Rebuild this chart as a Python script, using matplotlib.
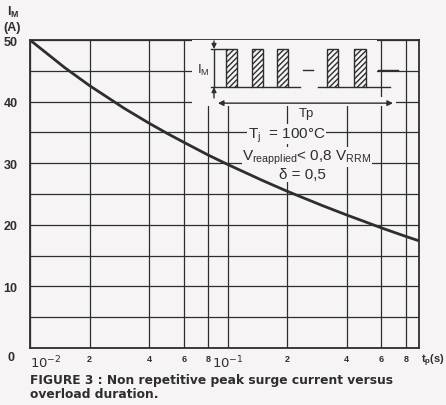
import matplotlib.pyplot as plt
from matplotlib.patches import Rectangle

plt.rcParams['font.family'] = ['Liberation Sans', 'DejaVu Sans']

# values
tp = [0.01, 0.015, 0.02, 0.03, 0.04, 0.05, 0.06, 0.08, 0.1, 0.15,
      0.2, 0.3, 0.4, 0.5, 0.6, 0.8, 0.93]
im = [50.0, 45.5, 42.6, 38.9, 36.5, 34.75, 33.4, 31.3, 29.8, 27.2,
      25.45, 23.15, 21.6, 20.45, 19.5, 18.1, 17.4]

x_ticks = [0.01, 0.02, 0.04, 0.06, 0.08, 0.1, 0.2, 0.4, 0.6, 0.8]
x_labels = ['$10^{-2}$', '2', '4', '6', '8', '$10^{-1}$', '2', '4', '6', '8']
y_ticks = [0, 10, 20, 30, 40, 50]
y_labels = ['', '10', '20', '30', '40', '50']
y_minor = [5, 15, 25, 35, 45]

ink = '#2e2e2e'
paper = '#f6f4f5'

fig = plt.figure(figsize=(4.46, 4.06), dpi=100, facecolor=paper)
ax = fig.add_axes([0.0673, 0.1404, 0.8722, 0.7586], facecolor=paper)

ax.set_xscale('log')
ax.set_xlim(0.01, 0.93)
ax.set_ylim(0, 50)

ax.set_xticks(x_ticks)
ax.set_xticklabels(x_labels)
ax.xaxis.set_minor_locator(plt.NullLocator())
ax.set_yticks(y_ticks)
ax.set_yticklabels(y_labels)
ax.set_yticks(y_minor, minor=True)

ax.grid(True, which='both', color=ink, linewidth=0.9, zorder=1)
ax.tick_params(which='both', length=0, colors=ink)
ax.tick_params(axis='y', pad=9, labelsize=9)
ax.tick_params(axis='x', pad=4)
for lab in ax.get_yticklabels():
    lab.set_fontweight('bold')
for i, lab in enumerate(ax.get_xticklabels()):
    lab.set_fontweight('bold')
    if x_labels[i].startswith('$'):
        lab.set_fontsize(9.5)
    else:
        lab.set_fontsize(6.5)
ax.get_xticklabels()[0].set_horizontalalignment('left')
for sp in ax.spines.values():
    sp.set_color(ink)
    sp.set_linewidth(1.3)

ax.plot(tp, im, color=ink, linewidth=2.0, zorder=5)

# axis captions
ax.text(-0.04, -0.03, '0', transform=ax.transAxes, ha='right', va='center',
        fontsize=9, fontweight='bold', color=ink)
fig.text(7 / 446, 1 - 12 / 406, r'I$_\mathregular{M}$', ha='left', va='center',
         fontsize=9, fontweight='bold', color=ink)
fig.text(3 / 446, 1 - 28 / 406, '(A)', ha='left', va='center',
         fontsize=9, fontweight='bold', color=ink)
fig.text(445 / 446, 1 - 361 / 406, r't$_\mathregular{p}$(s)', ha='right', va='center',
         fontsize=8, fontweight='bold', color=ink)

# inset: pulse train sketch
T = ax.transAxes
ax.add_patch(Rectangle((0.416, 0.786), 0.476, 0.214, transform=T,
                       facecolor=paper, edgecolor='none', zorder=3))
ax.add_patch(Rectangle((0.476, 0.786), 0.465, 0.03, transform=T,
                       facecolor=paper, edgecolor='none', zorder=3))
top, bot = 0.971, 0.847
pulses = [(0.504, 0.532), (0.571, 0.599), (0.635, 0.663),
          (0.763, 0.792), (0.833, 0.864)]
for x0, x1 in pulses:
    ax.add_patch(Rectangle((x0, bot), x1 - x0, top - bot, transform=T,
                           facecolor='none', edgecolor=ink, hatch='//////',
                           linewidth=1.0, zorder=6))
base = [(0.532, 0.571), (0.599, 0.635), (0.663, 0.694),
        (0.740, 0.763), (0.792, 0.833), (0.864, 0.925)]
for x0, x1 in base:
    ax.plot([x0, x1], [bot, bot], transform=T, color=ink, lw=1.0, zorder=6)
for x0, x1 in [(0.702, 0.727), (0.894, 0.945)]:
    ax.plot([x0, x1], [0.904, 0.904], transform=T, color=ink, lw=1.0, zorder=6)

# I_M dimension
ax.plot([0.465, 0.504], [top, top], transform=T, color=ink, lw=1.0, zorder=6)
ax.plot([0.465, 0.504], [bot, bot], transform=T, color=ink, lw=1.0, zorder=6)
ax.annotate('', xy=(0.473, top), xytext=(0.473, 0.997), xycoords=T,
            arrowprops=dict(arrowstyle='-|>', color=ink, lw=1.0,
                            mutation_scale=7, shrinkA=0, shrinkB=0), zorder=6)
ax.annotate('', xy=(0.473, bot), xytext=(0.473, 0.812), xycoords=T,
            arrowprops=dict(arrowstyle='-|>', color=ink, lw=1.0,
                            mutation_scale=7, shrinkA=0, shrinkB=0), zorder=6)
ax.plot([0.473, 0.473], [top, bot], transform=T, color=ink, lw=1.0, zorder=6)
ax.text(0.446, 0.904, r'I$_\mathregular{M}$', transform=T, ha='center', va='center',
        fontsize=9.5, color=ink, zorder=7,
        bbox=dict(facecolor=paper, edgecolor='none', pad=1))

# T_p dimension
ax.annotate('', xy=(0.483, 0.795), xytext=(0.933, 0.795), xycoords=T,
            arrowprops=dict(arrowstyle='<|-|>', color=ink, lw=1.0,
                            mutation_scale=8, shrinkA=0, shrinkB=0), zorder=6)

tkw = dict(transform=T, ha='center', va='center', color=ink, zorder=7,
           fontsize=11, bbox=dict(facecolor=paper, edgecolor='none', pad=0.5))
ax.text(0.71, 0.762, 'Tp', **{**tkw, 'fontsize': 9.5})
ax.text(0.66, 0.694, r'T$_\mathregular{j}$  = 100°C', **tkw)
ax.text(0.712, 0.620, r'V$_\mathregular{reapplied}$< 0,8 V$_\mathregular{RRM}$', **tkw)
ax.text(0.700, 0.565, 'δ = 0,5', **tkw)

# figure caption
fig.text(30 / 446, 1 - 388 / 406,
         'FIGURE 3 : Non repetitive peak surge current versus\noverload duration.',
         ha='left', va='center', fontsize=8.8, fontweight='bold', color=ink,
         family='DejaVu Sans', linespacing=1.1)

fig.savefig('out.png', dpi=100, facecolor=paper)
